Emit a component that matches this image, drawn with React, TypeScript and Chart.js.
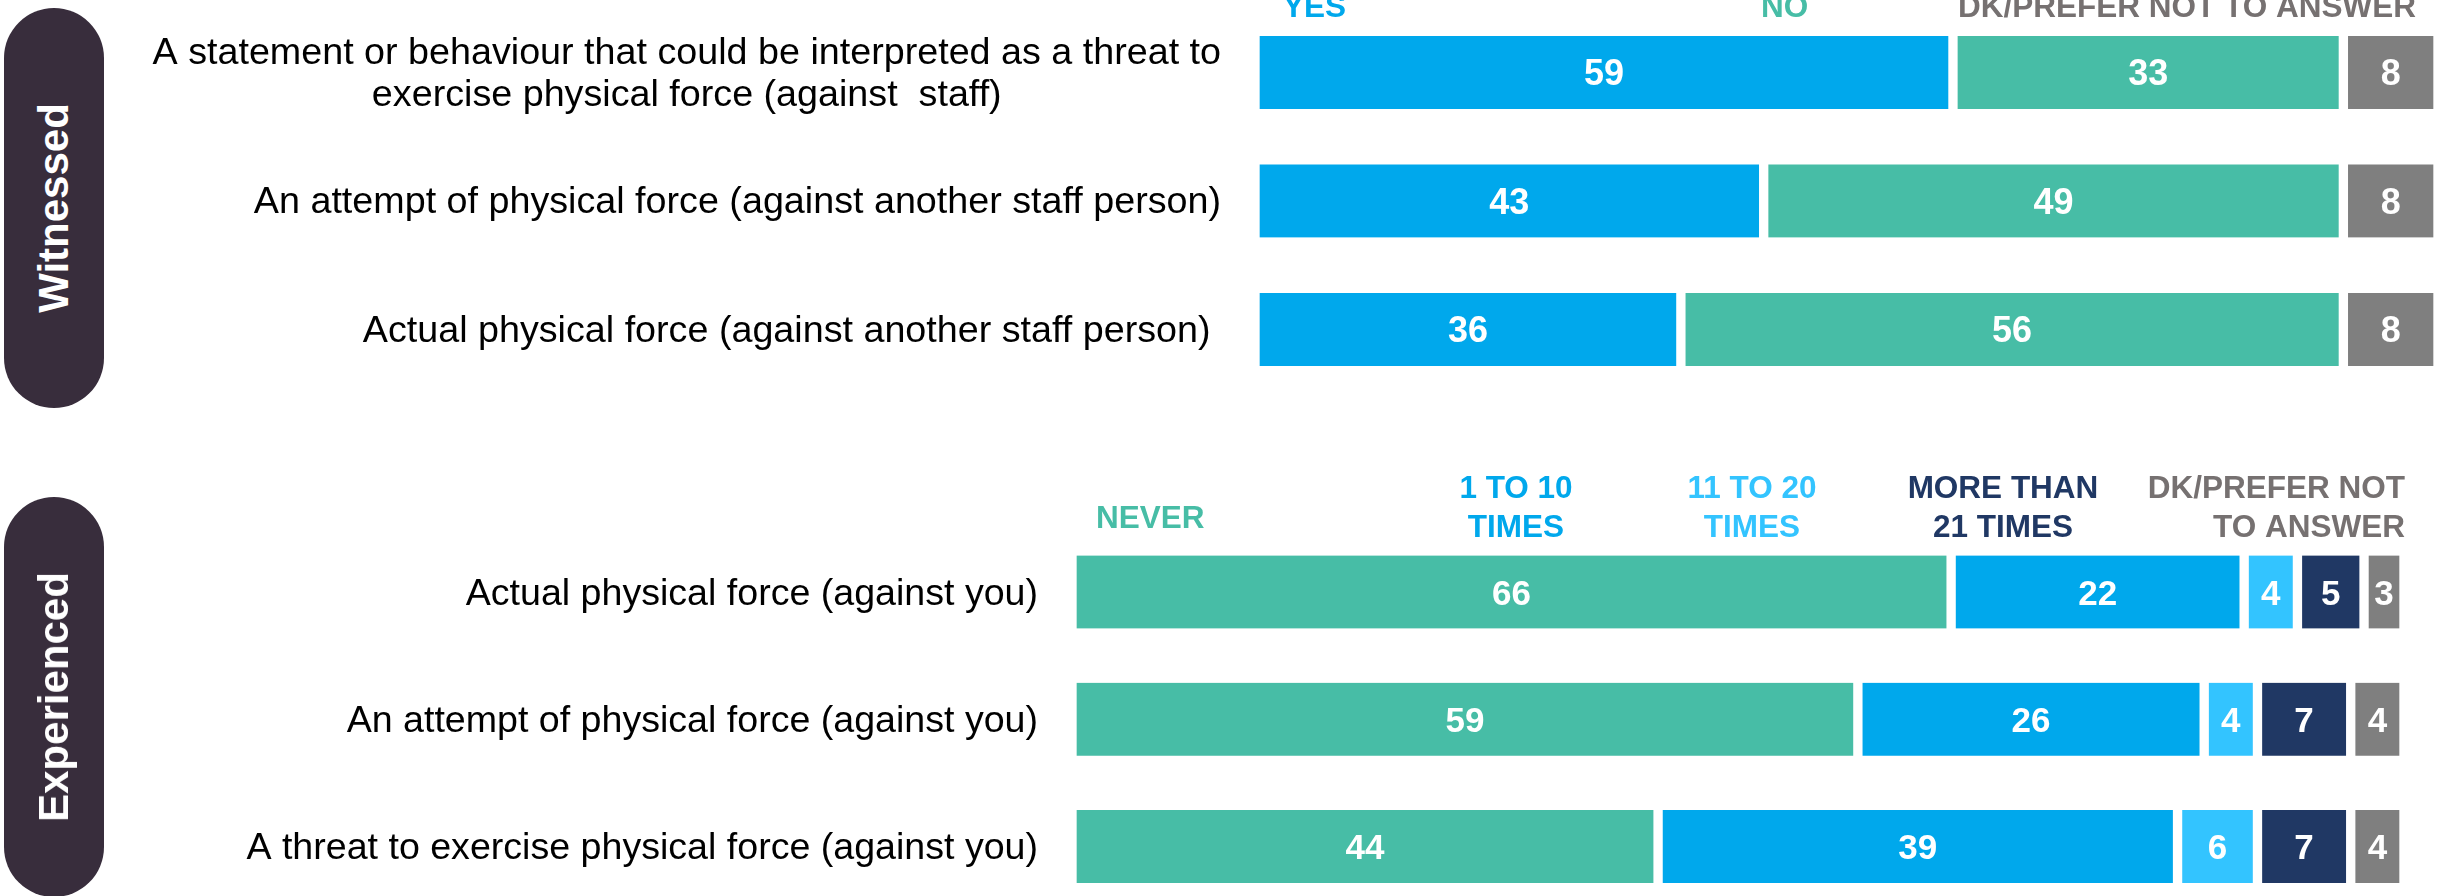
import React, { useEffect, useRef } from "react";
import { Chart, registerables } from "chart.js";

Chart.register(...registerables);

const FONT = '"Liberation Sans", Arial, Helvetica, sans-serif';

// ---------- Data: Witnessed ----------
const witnessedRows: (string | string[])[] = [
  [
    "A statement or behaviour that could be interpreted as a threat to",
    "exercise physical force (against  staff)",
  ],
  "An attempt of physical force (against another staff person)",
  "Actual physical force (against another staff person) ",
];
const witnessedSeries: string[][] = [["YES"], ["NO"], ["DK/PREFER NOT TO ANSWER"]];
const witnessedYes = [59, 43, 36];
const witnessedNo = [33, 49, 56];
const witnessedDk = [8, 8, 8];

// ---------- Data: Experienced ----------
const experiencedRows: string[] = [
  "Actual physical force (against you)",
  "An attempt of physical force (against you)",
  "A threat to exercise physical force (against you)",
];
const experiencedSeries: string[][] = [
  ["NEVER"],
  ["1 TO 10", "TIMES"],
  ["11 TO 20", "TIMES"],
  ["MORE THAN", "21 TIMES"],
  ["DK/PREFER NOT", "TO ANSWER"],
];
const expNever = [66, 59, 44];
const exp1to10 = [22, 26, 39];
const exp11to20 = [4, 4, 6];
const expMore21 = [5, 7, 7];
const expDk = [3, 4, 4];

// ---------- Styles ----------
const TEAL = "#47BDA6";
const BLUE = "#00A8EC";
const LIGHT = "#33C4FF";
const NAVY = "#203864";
const GRAY = "#7F7F7F";
const HEAD_GRAY = "#767171";
const PILL = "#382D3C";

type HeaderLayout = { x: number; align: CanvasTextAlign; ys: number[]; color: string };

const topHeaderLayout: HeaderLayout[] = [
  { x: 1283, align: "left", ys: [17], color: BLUE },
  { x: 1761, align: "left", ys: [17], color: TEAL },
  { x: 2416, align: "right", ys: [17], color: HEAD_GRAY },
];
const bottomHeaderLayout: HeaderLayout[] = [
  { x: 1096, align: "left", ys: [108], color: TEAL },
  { x: 1516, align: "center", ys: [78, 117], color: BLUE },
  { x: 1752, align: "center", ys: [78, 117], color: LIGHT },
  { x: 2003, align: "center", ys: [78, 117], color: NAVY },
  { x: 2405, align: "right", ys: [78, 117], color: HEAD_GRAY },
];

const textPlugin = {
  id: "customText",
  afterDatasetsDraw(chart: any, _args: any, opts: any) {
    const ctx: CanvasRenderingContext2D = chart.ctx;
    ctx.save();
    // values inside bars
    ctx.fillStyle = "#ffffff";
    ctx.font = `bold ${opts.valueSize}px ${FONT}`;
    ctx.textAlign = "center";
    ctx.textBaseline = "alphabetic";
    chart.data.datasets.forEach((ds: any, di: number) => {
      const meta = chart.getDatasetMeta(di);
      meta.data.forEach((el: any, i: number) => {
        const p = el.getProps(["x", "base", "y"], true);
        ctx.fillText(String(ds.data[i]), (p.x + p.base) / 2, p.y + opts.valueOffset);
      });
    });

    // row labels
    const xs = chart.scales.x;
    const ys = chart.scales.y;
    const right = xs.getPixelForValue(0) - opts.labelGap;
    ctx.fillStyle = "#000000";
    ctx.font = `${opts.labelSize}px ${FONT}`;
    (chart.data.labels as any[]).forEach((lab: any, i: number) => {
      const y = ys.getPixelForValue(i) + opts.labelBase;
      if (Array.isArray(lab)) {
        const widths = lab.map((l: string) => ctx.measureText(l).width);
        const maxW = Math.max(...widths);
        const cx = right - maxW / 2;
        ctx.textAlign = "center";
        const n = lab.length;
        lab.forEach((l: string, k: number) => {
          ctx.fillText(l, cx, y + (k - (n - 1) / 2) * opts.lineHeight);
        });
      } else {
        ctx.textAlign = "right";
        ctx.fillText(lab, right, y);
      }
    });

    // series headers
    ctx.font = `bold ${opts.headerSize}px ${FONT}`;
    (opts.headers as string[][]).forEach((lines, hi) => {
      const lay: HeaderLayout = opts.headerLayout[hi];
      ctx.fillStyle = lay.color;
      ctx.textAlign = lay.align;
      lines.forEach((line, k) => ctx.fillText(line, lay.x, lay.ys[k]));
    });
    ctx.restore();
  },
};

function makeChart(
  canvas: HTMLCanvasElement,
  rows: any[],
  datasets: any[],
  padding: any,
  pluginOpts: any
) {
  return new Chart(canvas, {
    type: "bar",
    data: { labels: rows, datasets },
    options: {
      indexAxis: "y",
      responsive: false,
      animation: false,
      layout: { padding },
      plugins: {
        legend: { display: false },
        tooltip: { enabled: false },
        customText: pluginOpts,
      } as any,
      scales: {
        x: { display: false, stacked: true, min: 0, max: 100 },
        y: { display: false, stacked: true },
      },
      datasets: {
        bar: {
          barThickness: 73,
          borderWidth: { left: 5, right: 5, top: 0, bottom: 0 },
          borderColor: "#ffffff",
          borderSkipped: false,
        },
      } as any,
    },
    plugins: [textPlugin as any],
  });
}

export default function App() {
  const topRef = useRef<HTMLCanvasElement>(null);
  const botRef = useRef<HTMLCanvasElement>(null);

  useEffect(() => {
    const top = makeChart(
      topRef.current!,
      witnessedRows,
      [
        { label: witnessedSeries[0].join(" "), data: witnessedYes, backgroundColor: BLUE },
        { label: witnessedSeries[1].join(" "), data: witnessedNo, backgroundColor: TEAL },
        { label: witnessedSeries[2].join(" "), data: witnessedDk, backgroundColor: GRAY },
      ],
      { left: 1255, right: 2, top: 8.15, bottom: 26.35 },
      {
        valueSize: 36,
        valueOffset: 13,
        labelSize: 37.7,
        labelGap: 34,
        labelBase: 12.5,
        lineHeight: 42.3,
        headerSize: 31.5,
        headers: witnessedSeries,
        headerLayout: topHeaderLayout,
      }
    );
    const bot = makeChart(
      botRef.current!,
      experiencedRows,
      [
        { label: experiencedSeries[0].join(" "), data: expNever, backgroundColor: TEAL },
        { label: experiencedSeries[1].join(" "), data: exp1to10, backgroundColor: BLUE },
        { label: experiencedSeries[2].join(" "), data: exp11to20, backgroundColor: LIGHT },
        { label: experiencedSeries[3].join(" "), data: expMore21, backgroundColor: NAVY },
        { label: experiencedSeries[4].join(" "), data: expDk, backgroundColor: GRAY },
      ],
      { left: 1072, right: 36, top: 108.4, bottom: 29.9 },
      {
        valueSize: 35,
        valueOffset: 13,
        labelSize: 37.6,
        labelGap: 34,
        labelBase: 12.5,
        lineHeight: 42.3,
        headerSize: 31.5,
        headers: experiencedSeries,
        headerLayout: bottomHeaderLayout,
      }
    );
    return () => {
      top.destroy();
      bot.destroy();
    };
  }, []);

  const pillText: React.CSSProperties = {
    position: "absolute",
    left: "50%",
    top: "50%",
    transform: "translate(-50%, -50%) rotate(-90deg)",
    color: "#ffffff",
    font: `bold 42px ${FONT}`,
    lineHeight: "42px",
    whiteSpace: "nowrap",
  };

  return (
    <div
      style={{
        position: "fixed",
        left: 0,
        top: 0,
        width: 2440,
        height: 896,
        overflow: "hidden",
        background: "#ffffff",
      }}
    >
      <canvas
        ref={topRef}
        width={2440}
        height={420}
        style={{ position: "absolute", left: 0, top: 0, width: 2440, height: 420 }}
      />
      <canvas
        ref={botRef}
        width={2440}
        height={520}
        style={{ position: "absolute", left: 0, top: 420, width: 2440, height: 520 }}
      />
      <div
        style={{
          position: "absolute",
          left: 4,
          top: 8,
          width: 100,
          height: 400,
          borderRadius: 50,
          background: PILL,
        }}
      >
        <div style={pillText}>Witnessed</div>
      </div>
      <div
        style={{
          position: "absolute",
          left: 4,
          top: 497,
          width: 100,
          height: 400,
          borderRadius: 50,
          background: PILL,
        }}
      >
        <div style={pillText}>Experienced</div>
      </div>
    </div>
  );
}
